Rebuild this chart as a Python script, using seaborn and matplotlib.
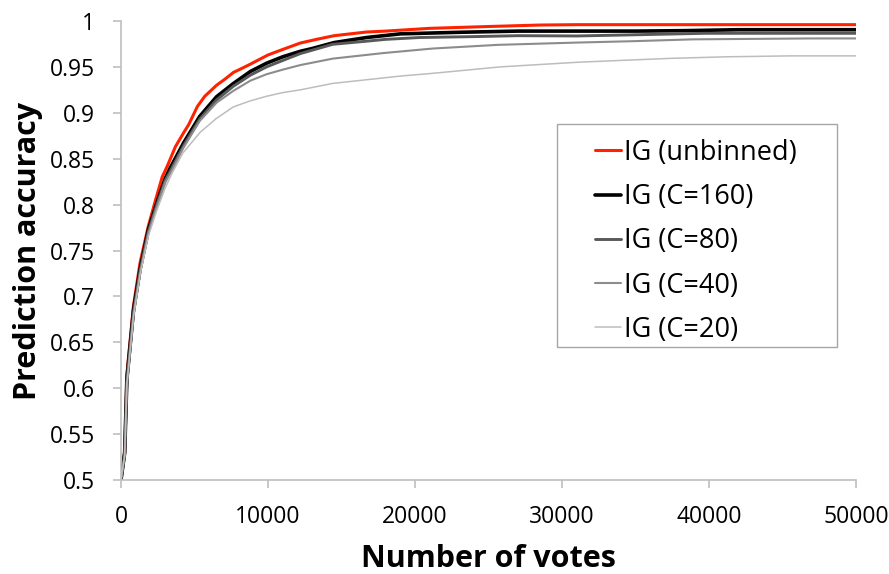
import matplotlib
matplotlib.use("Agg")
import matplotlib.pyplot as plt
from matplotlib.patches import Rectangle
from matplotlib.lines import Line2D
import seaborn as sns
import pandas as pd

# ---- data ----
series_names = ["IG (unbinned)", "IG (C=160)", "IG (C=80)", "IG (C=40)", "IG (C=20)"]

votes_unbinned = [0, 250, 400, 850, 1300, 1850, 2350, 2800, 3150, 3700, 4250, 4600, 5200, 5700,
                  6500, 7100, 7650, 8300, 8800, 9400, 10000, 11000, 12200, 13300, 14500, 15600,
                  16700, 18000, 19000, 21000, 23000, 25000, 28500, 31000, 35000, 40000, 45000, 50000]
acc_unbinned = [0.5, 0.53, 0.615, 0.69, 0.737, 0.776, 0.805, 0.83, 0.842, 0.863, 0.878, 0.887,
                0.907, 0.918, 0.930, 0.937, 0.944, 0.949, 0.953, 0.958, 0.963, 0.969, 0.976,
                0.980, 0.984, 0.986, 0.988, 0.989, 0.990, 0.992, 0.993, 0.994, 0.9956, 0.996,
                0.996, 0.996, 0.996, 0.996]

votes_c160 = [0, 250, 400, 850, 1300, 1850, 2400, 3000, 3350, 4250, 5350, 6500, 7650, 8800, 9900,
              11000, 12200, 13000, 14500, 16700, 19000, 23000, 27000, 31000, 35000, 38400, 42000,
              46000, 50000]
acc_c160 = [0.5, 0.53, 0.61, 0.685, 0.73, 0.772, 0.80, 0.828, 0.84, 0.867, 0.896, 0.9175, 0.932,
            0.945, 0.954, 0.961, 0.967, 0.970, 0.9765, 0.982, 0.986, 0.9877, 0.989, 0.989, 0.989,
            0.9895, 0.9905, 0.9905, 0.9905]

votes_c80 = [0, 250, 400, 850, 1300, 1850, 2400, 3000, 3400, 4250, 5350, 6500, 7650, 8800, 9900,
             11000, 12200, 14400, 16700, 18000, 20300, 24000, 27000, 31000, 34100, 39700, 45000,
             50000]
acc_c80 = [0.5, 0.528, 0.607, 0.682, 0.728, 0.77, 0.798, 0.826, 0.838, 0.864, 0.893, 0.914, 0.929,
           0.941, 0.950, 0.957, 0.9645, 0.9746, 0.978, 0.980, 0.982, 0.983, 0.984, 0.9837, 0.9847,
           0.9866, 0.9866, 0.9866]

votes_c40 = [0, 250, 400, 850, 1300, 1850, 2400, 3000, 3450, 4250, 5350, 6500, 7650, 8800, 9900,
             11000, 12200, 14400, 17800, 21200, 25600, 31000, 34800, 38900, 46900, 50000]
acc_c40 = [0.5, 0.527, 0.605, 0.68, 0.726, 0.768, 0.796, 0.824, 0.837, 0.862, 0.891, 0.911, 0.924,
           0.935, 0.942, 0.947, 0.952, 0.959, 0.965, 0.970, 0.974, 0.9765, 0.978, 0.980, 0.981,
           0.981]

votes_c20 = [0, 250, 400, 850, 1300, 1850, 2400, 3000, 3500, 4200, 5400, 6500, 7650, 8800, 9900,
             11000, 12200, 14400, 16700, 19000, 21200, 25800, 31000, 33000, 37400, 41200, 45500,
             50000]
acc_c20 = [0.5, 0.527, 0.604, 0.678, 0.724, 0.765, 0.792, 0.818, 0.835, 0.856, 0.879, 0.894,
           0.9065, 0.913, 0.918, 0.922, 0.925, 0.932, 0.936, 0.940, 0.943, 0.950, 0.955, 0.9564,
           0.9593, 0.961, 0.962, 0.962]

x_ticks = [0, 10000, 20000, 30000, 40000, 50000]
y_ticks = [0.5, 0.55, 0.6, 0.65, 0.7, 0.75, 0.8, 0.85, 0.9, 0.95, 1.0]
y_tick_labels = ["0.5", "0.55", "0.6", "0.65", "0.7", "0.75", "0.8", "0.85", "0.9", "0.95", "1"]

# ---- styles ----
colors = {"IG (unbinned)": "#FF2200", "IG (C=160)": "#000000", "IG (C=80)": "#595959",
          "IG (C=40)": "#8C8C8C", "IG (C=20)": "#BDBDBD"}
widths = {"IG (unbinned)": 2.2, "IG (C=160)": 2.6, "IG (C=80)": 2.1,
          "IG (C=40)": 1.5, "IG (C=20)": 1.1}

frames = []
for name, xs, ys in zip(series_names,
                        [votes_unbinned, votes_c160, votes_c80, votes_c40, votes_c20],
                        [acc_unbinned, acc_c160, acc_c80, acc_c40, acc_c20]):
    frames.append(pd.DataFrame({"votes": xs, "acc": ys, "series": name}))
df = pd.concat(frames, ignore_index=True)

sns.set_style("white")
plt.rcParams["font.family"] = ["Open Sans", "DejaVu Sans"]
plt.rcParams["text.color"] = "#000000"
plt.rcParams["axes.labelcolor"] = "#000000"

fig = plt.figure(figsize=(8.89, 5.74), dpi=100)
ax = fig.add_axes([121 / 889, 1 - 480 / 574, (856 - 121) / 889, (480 - 21) / 574])

sns.lineplot(data=df, x="votes", y="acc", hue="series", size="series",
             hue_order=series_names, size_order=series_names,
             palette=colors, sizes=widths, estimator=None, sort=False, ax=ax,
             legend=False)

ax.set_xlim(0, 50000)
ax.set_ylim(0.5, 1.0)
ax.set_xticks(x_ticks)
ax.set_xticklabels([str(t) for t in x_ticks])
ax.set_yticks(y_ticks)
ax.set_yticklabels(y_tick_labels)

axis_gray = "#BFBFBF"
for side in ["top", "right"]:
    ax.spines[side].set_visible(False)
for side in ["left", "bottom"]:
    ax.spines[side].set_color(axis_gray)
    ax.spines[side].set_linewidth(1.2)
ax.tick_params(axis="both", direction="out", length=5.8, width=1.2, color=axis_gray,
               labelsize=16.5, labelcolor="#000000")
ax.tick_params(axis="y", pad=13, left=True)
ax.tick_params(axis="x", pad=12, bottom=True)

ax.set_xlabel("Number of votes", fontsize=22, fontweight="bold", labelpad=11, color="#000000")
ax.set_ylabel("Prediction accuracy", fontsize=22, fontweight="bold", labelpad=5, color="#000000")

# legend
handles = [Line2D([0], [0], color=colors[n], lw=widths[n]) for n in series_names]
leg = ax.legend(handles, series_names, loc="upper left", bbox_to_anchor=(0.645, 0.743),
                frameon=False, fontsize=19.5, borderpad=0, borderaxespad=0,
                handlelength=0.96, handletextpad=0.1, labelspacing=0.6)
for t in leg.get_texts():
    t.set_color("#000000")
ax.add_patch(Rectangle((0.5932, 0.2898), 0.9741 - 0.5932, 0.7756 - 0.2898,
                       transform=ax.transAxes, fill=False, edgecolor="#A6A6A6",
                       linewidth=1.0, zorder=5, clip_on=False))

fig.savefig("out.png", dpi=100)
